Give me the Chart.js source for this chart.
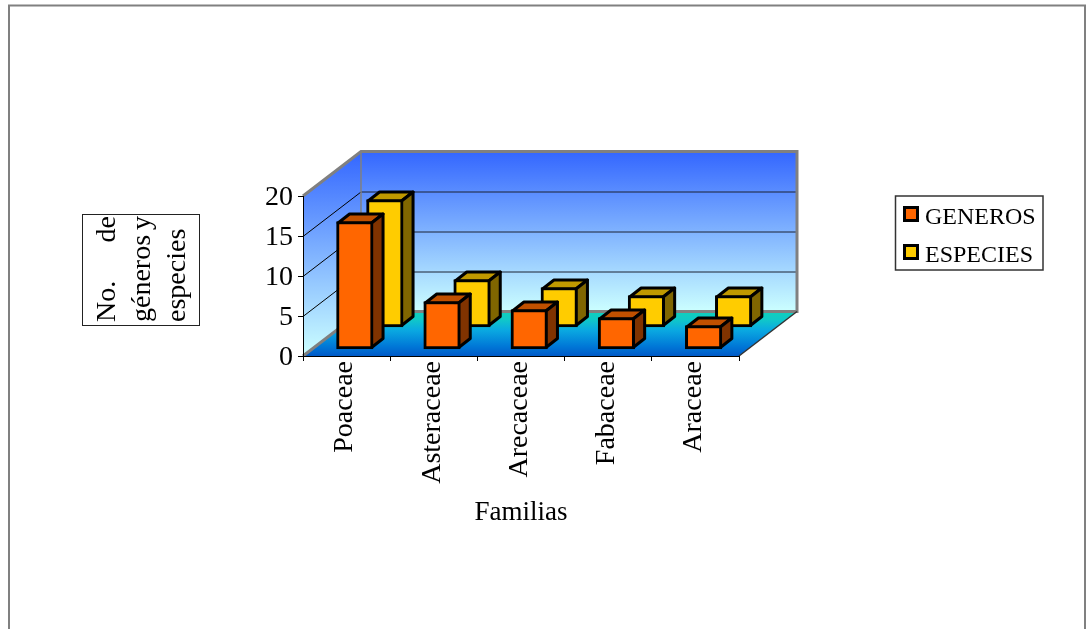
<!DOCTYPE html>
<html>
<head>
<meta charset="utf-8">
<style>
  html, body { margin: 0; padding: 0; background: #fff; }
  #wrap { width: 1086px; height: 629px; }
</style>
<script src="https://cdn.jsdelivr.net/npm/chart.js@4/dist/chart.umd.min.js"></script>
</head>
<body>
<div id="wrap"><canvas id="chart" width="1086" height="629"></canvas></div>
<script>
const categories = ['Poaceae', 'Asteraceae', 'Arecaceae', 'Fabaceae', 'Araceae'];
const generos = [16, 6, 5, 4, 3];
const especies = [16, 6, 5, 4, 4];
const yTicks = [0, 5, 10, 15, 20];
const xTitle = 'Familias';
const yTitleLines = [['No.', 'de'], ['géneros', 'y'], ['especies']];

const SERIF = '"Liberation Serif", "Times New Roman", serif';

// Depth of the box and of each bar, in canvas pixels.
const BOX_DX = 58, BOX_DY = 44.5;
const BAR_DX = 11.5, BAR_DY = 9;

// Each series sits on its own row of the floor.
const rowShift = [
  { dx: 8.2, dy: -6.5 },
  { dx: 38.2, dy: -28.5 }
];
const shades = [
  { top: '#C05000', side: '#803300' },
  { top: '#C09900', side: '#806600' }
];

function poly(ctx, pts) {
  ctx.beginPath();
  pts.forEach((p, i) => i ? ctx.lineTo(p[0], p[1]) : ctx.moveTo(p[0], p[1]));
  ctx.closePath();
}

const box3d = {
  id: 'box3d',
  beforeDatasetsDraw(chart) {
    const { ctx, chartArea: a, scales: { y } } = chart;
    const L = a.left, R = a.right, T = a.top, B = a.bottom;
    const h = B - T;
    ctx.save();

    // Back wall
    let g = ctx.createLinearGradient(0, T - BOX_DY, 0, B - BOX_DY);
    g.addColorStop(0, '#3366FF');
    g.addColorStop(1, '#CCFFFF');
    ctx.fillStyle = g;
    ctx.fillRect(L + BOX_DX, T - BOX_DY, R - L, h);

    // Side wall: one vertical gradient over its full height
    g = ctx.createLinearGradient(0, T - BOX_DY, 0, B);
    g.addColorStop(0, '#3366FF');
    g.addColorStop(1, '#CCFFFF');
    ctx.fillStyle = g;
    poly(ctx, [[L, T], [L + BOX_DX, T - BOX_DY], [L + BOX_DX, B - BOX_DY], [L, B]]);
    ctx.fill();

    // Floor
    g = ctx.createLinearGradient(0, B - BOX_DY, 0, B);
    g.addColorStop(0, '#0FD0BC');
    g.addColorStop(0.18, '#10C8C8');
    g.addColorStop(0.41, '#0AAAE1');
    g.addColorStop(0.78, '#0078D7');
    g.addColorStop(1, '#005AC8');
    ctx.fillStyle = g;
    poly(ctx, [[L, B], [R, B], [R + BOX_DX, B - BOX_DY], [L + BOX_DX, B - BOX_DY]]);
    ctx.fill();

    // Gridlines across both walls
    ctx.lineWidth = 1;
    yTicks.slice(1, -1).forEach(v => {
      const py = Math.round(y.getPixelForValue(v)) + 0.5;
      ctx.strokeStyle = '#000';
      ctx.beginPath();
      ctx.moveTo(L, py);
      ctx.lineTo(L + BOX_DX, py - BOX_DY);
      ctx.stroke();
      ctx.strokeStyle = '#1C2233';
      ctx.beginPath();
      ctx.moveTo(L + BOX_DX, py - BOX_DY);
      ctx.lineTo(R + BOX_DX, py - BOX_DY);
      ctx.stroke();
    });

    // Grey edges of the box
    ctx.strokeStyle = '#808080';
    ctx.lineWidth = 3;
    ctx.lineJoin = 'miter';
    ctx.beginPath();
    ctx.moveTo(L, T);
    ctx.lineTo(L + BOX_DX, T - BOX_DY);
    ctx.lineTo(R + BOX_DX, T - BOX_DY);
    ctx.lineTo(R + BOX_DX, B - BOX_DY);
    ctx.lineTo(L + BOX_DX, B - BOX_DY);
    ctx.lineTo(L, B);
    ctx.stroke();
    ctx.lineWidth = 1.5;
    ctx.beginPath();
    ctx.moveTo(L + BOX_DX, T - BOX_DY);
    ctx.lineTo(L + BOX_DX, B - BOX_DY);
    ctx.stroke();
    ctx.strokeStyle = '#333';
    ctx.beginPath();
    ctx.moveTo(R, B);
    ctx.lineTo(R + BOX_DX, B - BOX_DY);
    ctx.stroke();
    ctx.restore();
  },
  // The bar itself is painted by the library inside the translated context;
  // its top and side faces go underneath it.
  beforeDatasetDraw(chart, args) {
    const { ctx } = chart;
    const i = args.index;
    const s = rowShift[i];
    ctx.save();
    ctx.translate(s.dx, s.dy);
    ctx.lineWidth = 3;
    ctx.lineJoin = 'round';
    ctx.strokeStyle = '#000';
    args.meta.data.forEach(bar => {
      const p = bar.getProps(['x', 'y', 'base', 'width'], true);
      const l = p.x - p.width / 2 + 1.5, r = p.x + p.width / 2 - 1.5;
      const t = p.y + 1.5, b = p.base - 1.5;
      poly(ctx, [[l, t], [r, t], [r + BAR_DX, t - BAR_DY], [l + BAR_DX, t - BAR_DY]]);
      ctx.fillStyle = shades[i].top;
      ctx.fill();
      ctx.stroke();
      poly(ctx, [[r, t], [r + BAR_DX, t - BAR_DY], [r + BAR_DX, b - BAR_DY], [r, b]]);
      ctx.fillStyle = shades[i].side;
      ctx.fill();
      ctx.stroke();
    });
  },
  afterDatasetDraw(chart) {
    chart.ctx.restore();
  },
  afterDraw(chart) {
    const { ctx } = chart;
    ctx.save();

    // Page frame
    ctx.strokeStyle = '#808080';
    ctx.lineWidth = 2;
    ctx.beginPath();
    ctx.moveTo(9, 629);
    ctx.lineTo(9, 5.5);
    ctx.lineTo(1085, 5.5);
    ctx.lineTo(1085, 629);
    ctx.stroke();

    // Vertical axis caption in its box
    ctx.strokeStyle = '#222';
    ctx.lineWidth = 1;
    ctx.strokeRect(82.5, 214.5, 117, 111);
    ctx.fillStyle = '#000';
    ctx.font = '28px ' + SERIF;
    ctx.textBaseline = 'alphabetic';
    const baselines = [115, 150, 185];
    yTitleLines.forEach((words, n) => {
      ctx.save();
      ctx.translate(baselines[n], 322);
      ctx.rotate(-Math.PI / 2);
      ctx.textAlign = 'left';
      ctx.fillText(words[0], 0, 0);
      if (words[1]) {
        ctx.textAlign = 'right';
        ctx.fillText(words[1], 106, 0);
      }
      ctx.restore();
    });

    // Legend
    ctx.strokeStyle = '#333';
    ctx.lineWidth = 1.5;
    ctx.fillStyle = '#fff';
    ctx.fillRect(895, 196, 148, 74);
    ctx.strokeRect(895.5, 196, 147.5, 74);
    const legendY = [214, 252];
    ctx.font = '24px ' + SERIF;
    chart.data.datasets.forEach((ds, n) => {
      const yc = legendY[n];
      ctx.fillStyle = ds.backgroundColor;
      ctx.fillRect(904.5, yc - 6.5, 13, 13);
      ctx.strokeStyle = '#000';
      ctx.lineWidth = 3;
      ctx.strokeRect(904.5, yc - 6.5, 13, 13);
      ctx.fillStyle = '#000';
      ctx.textAlign = 'left';
      ctx.fillText(ds.label, 925, yc + 10);
    });
    ctx.restore();
  }
};

new Chart(document.getElementById('chart'), {
  type: 'bar',
  data: {
    labels: categories,
    datasets: [
      { label: 'GENEROS', data: generos, backgroundColor: '#FF6600' },
      { label: 'ESPECIES', data: especies, backgroundColor: '#FFCC00' }
    ]
  },
  options: {
    responsive: false,
    animation: false,
    grouped: false,
    clip: false,
    barThickness: 36.5,
    borderWidth: 3,
    borderColor: '#000',
    borderSkipped: false,
    layout: { padding: { left: 0, right: 347, top: 196, bottom: 0 } },
    plugins: { legend: { display: false }, tooltip: { enabled: false } },
    scales: {
      x: {
        afterFit(scale) { scale.height = 273; },
        grid: { drawOnChartArea: false, drawTicks: true, tickLength: 5, color: '#000', z: 1 },
        border: { display: true, color: '#000', width: 1, z: 1 },
        ticks: {
          minRotation: 90, maxRotation: 90, autoSkip: false, padding: 0, labelOffset: -1.5,
          color: '#000', font: { family: SERIF, size: 28 }
        },
        title: {
          display: true, text: xTitle, color: '#000',
          font: { family: SERIF, size: 27 },
          padding: { top: 0, bottom: 100 }
        }
      },
      y: {
        min: 0, max: 20,
        afterFit(scale) { scale.width = 303; },
        afterBuildTicks(scale) { scale.ticks = yTicks.map(value => ({ value })); },
        grid: { drawOnChartArea: false, drawTicks: true, tickLength: 5, color: '#000', z: 1 },
        border: { display: true, color: '#000', width: 1, z: 1 },
        ticks: {
          padding: 5, labelOffset: 1.5, color: '#000', font: { family: SERIF, size: 28 }
        }
      }
    }
  },
  plugins: [box3d]
});
</script>
</body>
</html>
